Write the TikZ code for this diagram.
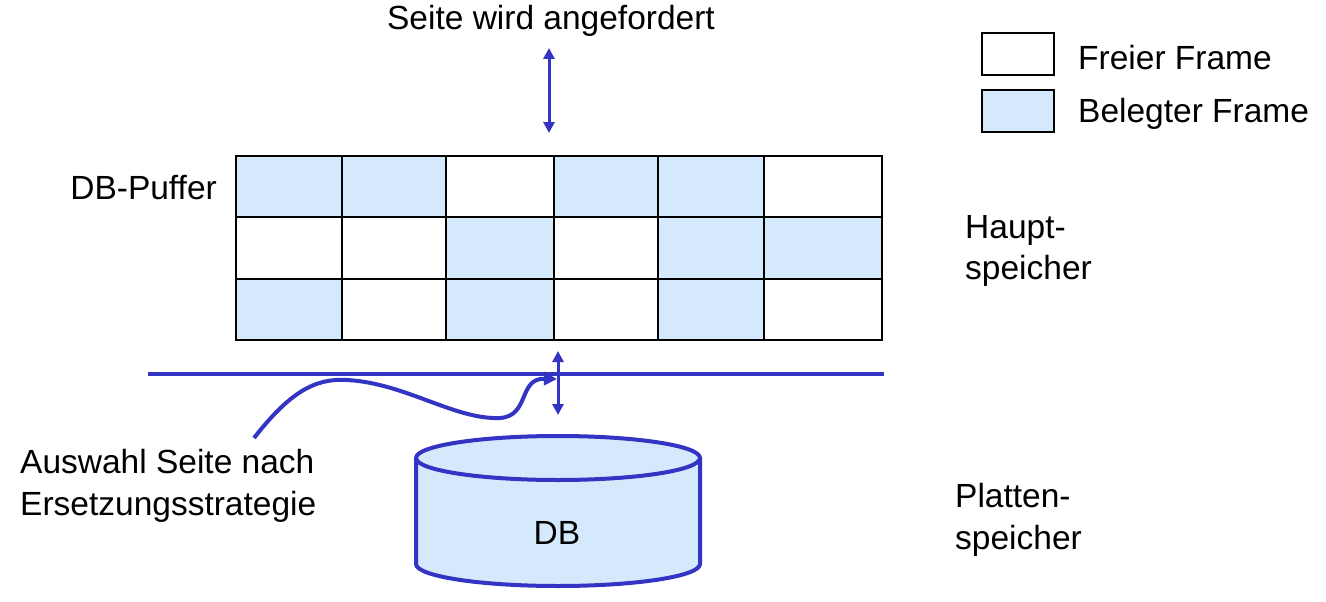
\documentclass[tikz,border=0pt]{standalone}
\usepackage{fontspec}
\setmainfont{Liberation Sans}
\usetikzlibrary{arrows.meta}
\definecolor{dbblue}{RGB}{51,51,196}
\definecolor{cellfill}{RGB}{212,234,252}
\begin{document}
\begin{tikzpicture}[x=1pt,y=-1pt,
  every node/.style={font=\fontsize{33.5}{41.5}\selectfont, inner sep=0pt},
  cell/.style={draw=black, line width=2pt, outer sep=0pt, minimum height=61.33pt, anchor=north west},
  free/.style={cell, fill=white},
  used/.style={cell, fill=cellfill},
  legbox/.style={draw=black, line width=2.5pt, minimum width=72pt, minimum height=42pt},
  bluearrow/.style={draw=dbblue, line width=3pt, {Triangle[width=11pt,length=11pt]}-{Triangle[width=11pt,length=11pt]}},
  txt/.style={align=left}
]
\useasboundingbox (0,0) rectangle (1326,602);
% grid
\def\ch{61.33}
\foreach \r/\pa/\pb/\pc/\pd/\pe/\pf in {1/used/used/free/used/used/free,2/free/free/used/free/used/used,3/used/free/used/free/used/free}{
  \foreach \st/\xa/\w [count=\c] in {\pa/236/106,\pb/342/104,\pc/446/108,\pd/554/104,\pe/658/106,\pf/764/118}{
    \node[\st, minimum width=\w pt] (c\r\c) at (\xa,{156+(\r-1)*\ch}) {};
  }
}
% labels
\node[anchor=base] (req) at (551,30) {Seite wird angefordert};
\coordinate (reqa) at (549,48);
\coordinate (reqb) at (549,133);
\draw[bluearrow] (reqa) -- (reqb);

\node[anchor=east] (puffer) at (217,188) {DB-Puffer};
\node[txt, anchor=west] (haupt) at (965,251) {Haupt-\\speicher};
\node[txt, anchor=west] (platten) at (955,520) {Platten-\\speicher};
\node[txt, anchor=west] (auswahl) at (20,486) {Auswahl Seite nach\\Ersetzungsstrategie};

% legend
\node[legbox, fill=white] (lfree) at (1018,54) {};
\node[legbox, fill=cellfill] (lused) at (1018,111) {};
\node[anchor=west] (tfree) at (1078,58) {Freier Frame};
\node[anchor=west] (tused) at (1078,114) {Belegter Frame};

% separator line
\coordinate (sepl) at (148,374);
\coordinate (sepr) at (884,374);
\draw[dbblue, line width=4pt] (sepl) -- (sepr);

% lower arrow
\coordinate (loa) at (558,351);
\coordinate (lob) at (558,415);
\draw[bluearrow] (loa) -- (lob);

% curved arrow
\coordinate (cstart) at (254,438);
\coordinate (cend) at (557,379);
\draw[dbblue, line width=4pt, -{Triangle[width=13pt,length=13pt]}]
  (cstart) .. controls (290,392) and (315,378) .. (347,380)
  .. controls (405,383) and (455,420) .. (500,418)
  .. controls (530,416) and (518,378) .. (cend);

% cylinder
\fill[cellfill] (416,458) -- (416,564) arc[start angle=180, end angle=0, x radius=142, y radius=22]
  -- (700,458) arc[start angle=0, end angle=-180, x radius=142, y radius=22] -- cycle;
\draw[dbblue, line width=4pt] (416,458) -- (416,564) arc[start angle=180, end angle=0, x radius=142, y radius=22] -- (700,458);
\draw[dbblue, line width=4pt] (558,458) ellipse[x radius=142, y radius=22];
\node (db) at (557,533) {DB};
\end{tikzpicture}
\end{document}
